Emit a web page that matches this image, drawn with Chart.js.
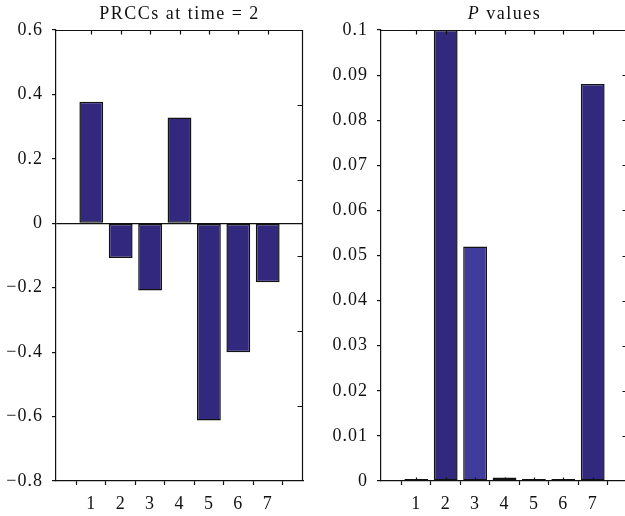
<!DOCTYPE html>
<html><head><meta charset="utf-8">
<script src="https://cdn.jsdelivr.net/npm/chart.js@4"></script>
<style>
html,body{margin:0;padding:0;background:#fff;overflow:hidden;width:625px;height:516px;position:relative;}
#w1{position:absolute;left:0;top:0;width:320px;height:516px;}
#w2{position:absolute;left:325px;top:0;width:320px;height:516px;}
</style></head><body>
<div id="w1"><canvas id="c1" width="320" height="516"></canvas></div>
<div id="w2"><canvas id="c2" width="320" height="516"></canvas></div>
<script>
// ---- data ----
const categories = [1, 2, 3, 4, 5, 6, 7];
const xTickLabels = ['1', '2', '3', '4', '5', '6', '7'];
const prccValues = [0.377, -0.108, -0.209, 0.328, -0.612, -0.400, -0.183];
const pValues = [0.0003, 0.1, 0.052, 0.0008, 0.0002, 0.0003, 0.088];
const prccTickValues = [-0.8, -0.6, -0.4, -0.2, 0, 0.2, 0.4, 0.6];
const prccTickLabels = ['\u22120.8', '\u22120.6', '\u22120.4', '\u22120.2', '0', '0.2', '0.4', '0.6'];
const pTickValues = [0, 0.01, 0.02, 0.03, 0.04, 0.05, 0.06, 0.07, 0.08, 0.09, 0.1];
const pTickLabels = ['0', '0.01', '0.02', '0.03', '0.04', '0.05', '0.06', '0.07', '0.08', '0.09', '0.1'];
const prccRightTickValues = [1, 2, 3, 4, 5]; // secondary (unlabelled) right-edge ticks, 0..6 scale

// ---- style ----
const FONT_FAMILY = '"Liberation Serif", "Times New Roman", serif';
const FONT_SIZE = 18;
const TEXT = '#111111';
const LINE = '#111111';
const BAR = '#32297f';
const BAR_LIGHT = '#3f3c9c';
const pColors = [BAR, BAR, BAR_LIGHT, BAR, BAR, BAR, BAR];

function framePlugin(o) {
  return {
    id: 'frame',
    beforeUpdate(chart) { chart.ctx.letterSpacing = '1px'; },
    beforeDraw(chart) { chart.ctx.letterSpacing = '1px'; },
    afterDraw(chart) {
      const { ctx, chartArea: a, scales } = chart;
      ctx.save();
      ctx.strokeStyle = LINE;
      ctx.lineWidth = 1.2;
      const T = Math.round(a.top) + 0.5;
      const R = Math.round(a.right) - 0.5;
      const B = Math.round(a.bottom) - 0.5;
      ctx.beginPath();
      ctx.moveTo(a.left, T); ctx.lineTo(R, T); ctx.lineTo(R, a.bottom);
      categories.forEach(v => {
        const x = Math.round(scales.x.getPixelForValue(v)) + 0.5;
        ctx.moveTo(x, T); ctx.lineTo(x, T + 4);
        if (o.bottomInner) { ctx.moveTo(x, B); ctx.lineTo(x, B - 3); }
      });
      const rs = scales[o.rightScale];
      o.rightTicks.forEach(v => {
        const y = Math.round(rs.getPixelForValue(v)) + 0.5;
        ctx.moveTo(R, y); ctx.lineTo(R - 5, y);
      });
      ctx.stroke();
      // title
      ctx.fillStyle = TEXT;
      ctx.textBaseline = 'alphabetic';
      ctx.textAlign = 'left';
      ctx.letterSpacing = '1.5px';
      let total = 0;
      const widths = o.title.map(p => {
        ctx.font = (p.italic ? 'italic ' : '') + FONT_SIZE + 'px ' + FONT_FAMILY;
        const w = ctx.measureText(p.text).width; total += w; return w;
      });
      let x = (a.left + a.right) / 2 - total / 2;
      o.title.forEach((p, i) => {
        ctx.font = (p.italic ? 'italic ' : '') + FONT_SIZE + 'px ' + FONT_FAMILY;
        ctx.fillText(p.text, x, 18.5);
        x += widths[i];
      });
      ctx.restore();
    }
  };
}

function makeChart(id, values, colors, yTickValues, yTickLabels, yMin, yMax, zeroLine, frameOpts, extraScales) {
  const scales = {
    x: {
      type: 'linear', min: -0.2, max: 8.2, offset: false,
      afterBuildTicks: s => { s.ticks = categories.map(v => ({ value: v })); },
      afterFit: s => { s.height = 35; },
      ticks: {
        autoSkip: false, maxRotation: 0, padding: 8, color: TEXT,
        font: { family: FONT_FAMILY, size: FONT_SIZE },
        callback: (v, i) => xTickLabels[i]
      },
      grid: { drawOnChartArea: false, drawTicks: true, tickLength: 4, tickColor: LINE, tickWidth: 1.2 },
      border: { display: true, color: LINE, width: 1.2 }
    },
    y: {
      type: 'linear', min: yMin, max: yMax,
      afterBuildTicks: s => { s.ticks = yTickValues.map(v => ({ value: v })); },
      afterFit: s => { s.width = 56; },
      ticks: {
        padding: 9, color: TEXT,
        font: { family: FONT_FAMILY, size: FONT_SIZE },
        callback: (v, i) => yTickLabels[i]
      },
      grid: {
        drawOnChartArea: zeroLine,
        color: c => (c.tick && c.tick.value === 0) ? LINE : 'rgba(0,0,0,0)',
        tickLength: 4, tickColor: LINE, tickWidth: 1.2, lineWidth: 1.2
      },
      border: { display: true, color: LINE, width: 1.2 }
    }
  };
  Object.assign(scales, extraScales || {});
  return new Chart(document.getElementById(id), {
    type: 'bar',
    data: {
      datasets: [{
        data: categories.map((c, i) => ({ x: c, y: values[i] })),
        backgroundColor: colors,
        borderColor: '#121212',
        borderWidth: 1.5,
        borderSkipped: false,
        minBarLength: 2,
        barPercentage: 0.81,
        categoryPercentage: 1.0,
        yAxisID: 'y'
      }]
    },
    options: {
      responsive: false,
      animation: false,
      devicePixelRatio: 1,
      layout: { padding: { top: 30, right: 17, left: 0, bottom: 0 } },
      plugins: { legend: { display: false }, title: { display: false }, tooltip: { enabled: false } },
      scales
    },
    plugins: [framePlugin(frameOpts)]
  });
}

makeChart('c1', prccValues, BAR, prccTickValues, prccTickLabels, -0.8, 0.6, true,
  { title: [{ text: 'PRCCs at time = 2', italic: false }], rightScale: 'yR', rightTicks: prccRightTickValues, bottomInner: false },
  { yR: { type: 'linear', min: 0, max: 6, display: false } });

makeChart('c2', pValues, pColors, pTickValues, pTickLabels, 0, 0.1, false,
  { title: [{ text: 'P', italic: true }, { text: ' values', italic: false }], rightScale: 'y', rightTicks: pTickValues.slice(1, -1), bottomInner: true });
</script>
</body></html>
